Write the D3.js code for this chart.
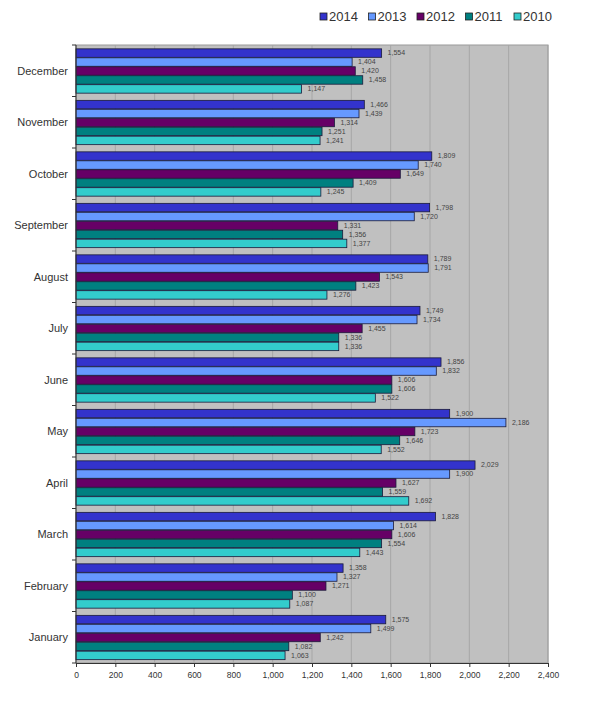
<!DOCTYPE html>
<html><head><meta charset="utf-8">
<script src="https://cdn.jsdelivr.net/npm/d3@7"></script>
<style>body{margin:0;background:#fff;}svg{display:block;font-family:"Liberation Sans",Arial,sans-serif;}</style>
</head><body>
<svg id="c" width="600" height="701"></svg>
<script>
const months = ["December","November","October","September","August","July","June","May","April","March","February","January"];
const years = ["2014","2013","2012","2011","2010"];
const colors = ["#3333CC","#6699FF","#660066","#008080","#33CCCC"];
const v2014 = [1554,1466,1809,1798,1789,1749,1856,1900,2029,1828,1358,1575];
const v2013 = [1404,1439,1740,1720,1791,1734,1832,2186,1900,1614,1327,1499];
const v2012 = [1420,1314,1649,1331,1543,1455,1606,1723,1627,1606,1271,1242];
const v2011 = [1458,1251,1409,1356,1423,1336,1606,1646,1559,1554,1100,1082];
const v2010 = [1147,1241,1245,1377,1276,1336,1522,1552,1692,1443,1087,1063];
const xTicks = [0,200,400,600,800,1000,1200,1400,1600,1800,2000,2200,2400];
const series = [v2014,v2013,v2012,v2011,v2010];

const svg = d3.select("#c");
const L=76,R=548,T=45,B=663;
const x = d3.scaleLinear().domain([0,2400]).range([L,R]);
const y = d3.scaleBand().domain(months).range([T,B]).paddingInner(0.13).paddingOuter(0.065);
const yi = d3.scaleBand().domain(years).range([0,y.bandwidth()]);
const step = (B-T)/months.length;

svg.append("rect").attr("x",L).attr("y",T).attr("width",R-L).attr("height",B-T).attr("fill","#C0C0C0").attr("stroke","#999").attr("stroke-width",1);
svg.append("g").selectAll("line").data(xTicks.slice(1)).join("line")
  .attr("x1",d=>x(d)).attr("x2",d=>x(d)).attr("y1",T).attr("y2",B)
  .attr("stroke","#a6a6a6").attr("stroke-width",1);

const g = svg.append("g").selectAll("g").data(months).join("g")
  .attr("transform",d=>`translate(0,${y(d)})`);
years.forEach((yr,si)=>{
  g.append("rect").attr("x",L).attr("y",yi(yr)+0.5)
   .attr("width",(d,i)=>x(series[si][i])-L).attr("height",yi.bandwidth()-0.5)
   .attr("fill",colors[si]).attr("stroke","#1a1a3a").attr("stroke-width",0.8);
  g.append("text").attr("x",(d,i)=>x(series[si][i])+6).attr("y",yi(yr)+yi.bandwidth()/2+2.5)
   .attr("font-size",7).attr("fill","#444").text((d,i)=>d3.format(",")(series[si][i]));
});

// month labels
svg.append("g").selectAll("text").data(months).join("text")
  .attr("x",68).attr("y",d=>y(d)+y.bandwidth()/2+4).attr("text-anchor","end")
  .attr("font-size",11).attr("fill","#333").text(d=>d);

// left axis
svg.append("line").attr("x1",L).attr("x2",L).attr("y1",T).attr("y2",B).attr("stroke","#333");
svg.append("g").selectAll("line").data(d3.range(months.length+1)).join("line")
  .attr("x1",L-4).attr("x2",L).attr("y1",i=>T+i*step).attr("y2",i=>T+i*step).attr("stroke","#333");

// bottom axis
const ax = svg.append("g").attr("transform",`translate(0,${B})`)
  .call(d3.axisBottom(x).tickValues(xTicks).tickSize(4).tickFormat(d3.format(",")));
ax.select(".domain").attr("stroke","#333");
ax.selectAll(".tick line").attr("stroke","#333");
ax.selectAll("text").attr("font-size",8.5).attr("fill","#333").attr("font-family","Liberation Sans, Arial, sans-serif").attr("dy","0.9em");

// legend
const lg = svg.append("g").selectAll("g").data(years).join("g")
  .attr("transform",(d,i)=>`translate(${320+i*48.5},17)`);
lg.append("rect").attr("x",0).attr("y",-4).attr("width",7).attr("height",7)
  .attr("fill",(d,i)=>colors[i]).attr("stroke","#222").attr("stroke-width",0.8);
lg.append("text").attr("x",9).attr("y",4).attr("font-size",13).attr("fill","#333").text(d=>d);
</script>
</body></html>
